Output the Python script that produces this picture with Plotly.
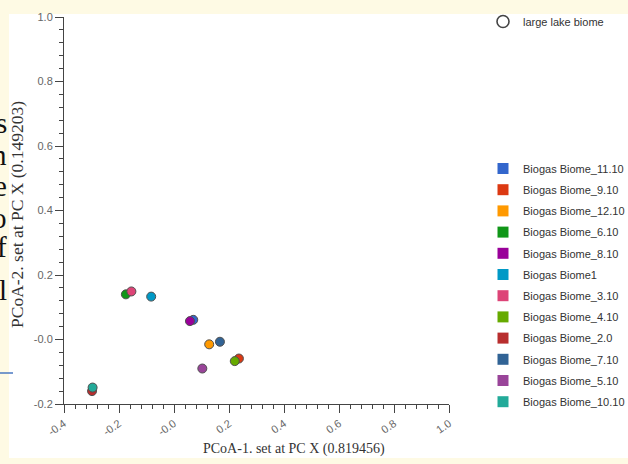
import plotly.graph_objects as go

# ---------------- data ----------------
sample_names = ["Biogas Biome_11.10", "Biogas Biome_9.10", "Biogas Biome_12.10",
                "Biogas Biome_6.10", "Biogas Biome_8.10", "Biogas Biome1",
                "Biogas Biome_3.10", "Biogas Biome_4.10", "Biogas Biome_2.0",
                "Biogas Biome_7.10", "Biogas Biome_5.10", "Biogas Biome_10.10"]
sample_colors = ["#3366cc", "#dc3912", "#ff9900", "#109618", "#990099", "#0099c6",
                 "#dd4477", "#66aa00", "#b82e2e", "#316395", "#994499", "#22aa99"]
pc1_values = [0.070, 0.236, 0.128, -0.175, 0.058, -0.083,
              -0.155, 0.221, -0.298, 0.167, 0.103, -0.296]
pc2_values = [0.061, -0.059, -0.015, 0.140, 0.057, 0.133,
              0.149, -0.067, -0.160, -0.007, -0.090, -0.149]

x_tick_vals = [-0.4, -0.2, 0.0, 0.2, 0.4, 0.6, 0.8, 1.0]
x_tick_text = ["-0.4", "-0.2", "-0.0", "0.2", "0.4", "0.6", "0.8", "1.0"]
y_tick_vals = [-0.2, 0.0, 0.2, 0.4, 0.6, 0.8, 1.0]
y_tick_text = ["-0.2", "-0.0", "0.2", "0.4", "0.6", "0.8", "1.0"]

x_title = "PCoA-1. set at PC X (0.819456)"
y_title = "PCoA-2. set at PC X (0.149203)"
extra_legend_name = "large lake biome"
side_letters = ["s", "n", "e", "o", "f", "l"]
side_letter_rows = [123, 155, 186, 218, 247, 290]

# ---------------- geometry helpers ----------------
W, H = 628, 464
L, R, T, B = 64, 449, 17, 404


def px_x(x):
    return (x - L) / (R - L)


def px_y(y):
    return (B - y) / (B - T)


fig = go.Figure()

# data points
for name, col, xv, yv in zip(sample_names, sample_colors, pc1_values, pc2_values):
    fig.add_trace(go.Scatter(
        x=[xv], y=[yv], mode="markers", name=name, showlegend=False,
        marker=dict(symbol="circle", size=9, color=col,
                    line=dict(color="#505050", width=1)),
        hoverinfo="name+x+y"))

# legend entries (square swatches), one group each so the group gap spaces rows
for name, col in zip(sample_names, sample_colors):
    fig.add_trace(go.Scatter(
        x=[None], y=[None], mode="markers", name=name,
        legend="legend", legendgroup=name,
        marker=dict(symbol="square", size=11, color=col)))

fig.add_trace(go.Scatter(
    x=[None], y=[None], mode="markers", name=extra_legend_name,
    legend="legend2",
    marker=dict(symbol="circle-open", size=12, color="#444444",
                line=dict(width=1.6, color="#444444"))))

axis_common = dict(
    showgrid=False, zeroline=False, showline=True, linecolor="#444444",
    linewidth=1, ticks="outside", ticklen=8, tickcolor="#444444",
    tickfont=dict(family="Liberation Sans, Arial", size=11, color="#666666"),
    minor=dict(ticks="outside", ticklen=4, tickcolor="#444444", dtick=0.04),
)

fig.update_xaxes(range=[-0.4, 1.0], tickvals=x_tick_vals, ticktext=x_tick_text,
                 tickangle=-35, **axis_common)
fig.update_yaxes(range=[-0.2, 1.0], tickvals=y_tick_vals, ticktext=y_tick_text,
                 **axis_common)

shapes = [
    # white screenshot panel
    dict(type="rect", xref="paper", yref="paper", layer="below",
         x0=px_x(9), x1=px_x(640), y0=px_y(458), y1=px_y(14),
         fillcolor="white", line=dict(width=0)),
    # small blue rule at left edge
    dict(type="line", xref="paper", yref="paper",
         x0=px_x(-2), x1=px_x(13), y0=px_y(373), y1=px_y(373),
         line=dict(color="#4a78c2", width=1.5)),
]

annotations = [
    dict(text=x_title, xref="paper", yref="paper", x=px_x(294), y=px_y(449),
         xanchor="center", yanchor="middle", showarrow=False,
         font=dict(family="Liberation Serif, Times New Roman", size=14, color="#333333")),
    dict(text=y_title, xref="paper", yref="paper", x=px_x(17), y=px_y(215),
         xanchor="center", yanchor="middle", showarrow=False, textangle=-90,
         font=dict(family="Liberation Serif, Times New Roman", size=17.5, color="#333333")),
]
for letter, row in zip(side_letters, side_letter_rows):
    annotations.append(dict(
        text=letter, xref="paper", yref="paper", x=px_x(9), y=px_y(row),
        xanchor="right", yanchor="middle", showarrow=False,
        font=dict(family="Liberation Serif, Times New Roman", size=29, color="#111111")))

legend_font = dict(family="Liberation Sans, Arial", size=11, color="#333333")

fig.update_layout(
    width=W, height=H,
    margin=dict(l=L, r=W - R, t=T, b=H - B, autoexpand=False),
    paper_bgcolor="#fefae4",
    plot_bgcolor="rgba(0,0,0,0)",
    shapes=shapes,
    annotations=annotations,
    legend=dict(x=px_x(483), y=px_y(154), xanchor="left", yanchor="top",
                bgcolor="rgba(0,0,0,0)", font=legend_font,
                tracegroupgap=2.2, traceorder="grouped",
                itemclick=False, itemdoubleclick=False),
    legend2=dict(x=px_x(483), y=px_y(7), xanchor="left", yanchor="top",
                 bgcolor="rgba(0,0,0,0)", font=legend_font,
                 itemclick=False, itemdoubleclick=False),
    showlegend=True,
)

fig.write_html(
    "out.html",
    config={"displayModeBar": False},
    post_script="document.body.style.margin='0';document.body.style.overflow='hidden';",
)
